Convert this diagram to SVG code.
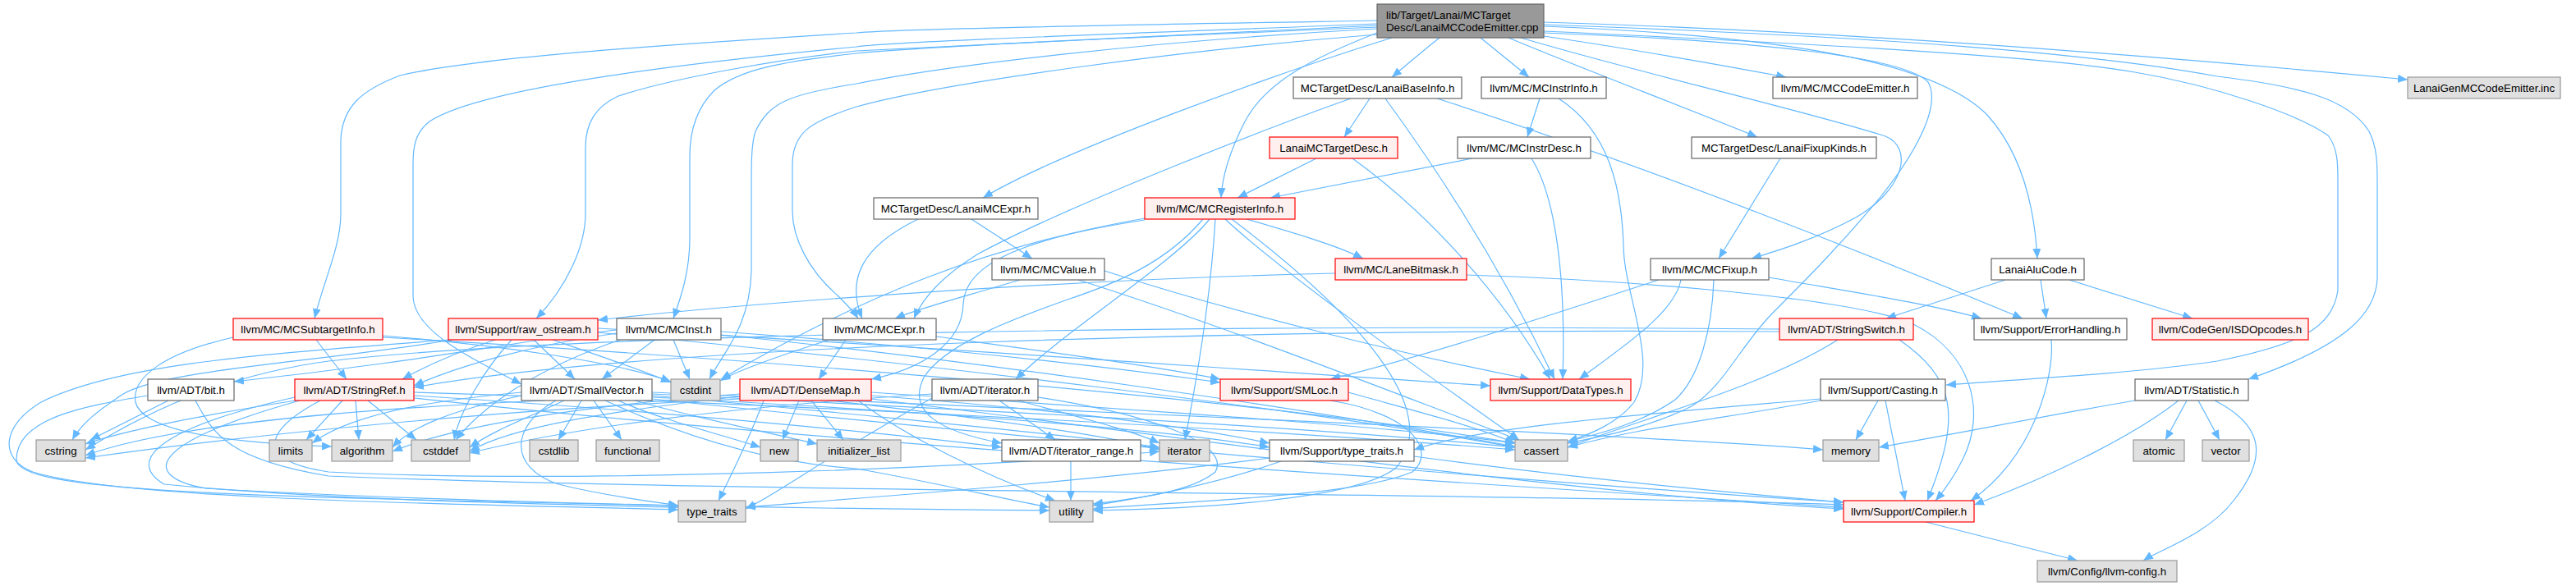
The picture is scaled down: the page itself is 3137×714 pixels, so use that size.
<svg xmlns="http://www.w3.org/2000/svg" width="3137" height="714" viewBox="0 0 3137 714">
<style>
.e{fill:none;stroke:#63b8ff;stroke-width:1.2;marker-end:url(#a)}
.n{fill:#fff;stroke:#666;stroke-width:1.2}
.r{fill:#fff0f0;stroke:#f00;stroke-width:1.2}
.g{fill:#e0e0e0;stroke:#999;stroke-width:1.2}
.rt{fill:#999;stroke:#666;stroke-width:1.2}
text{font-family:"Liberation Sans",Arial,sans-serif;font-size:13.3px;fill:#000;text-anchor:middle}
</style>
<defs>
<marker id="a" markerWidth="12" markerHeight="10" refX="12" refY="5" orient="auto" markerUnits="userSpaceOnUse"><path d="M0,0L12,5L0,10z" fill="#63b8ff"/></marker>
</defs>
<rect width="3137" height="714" fill="#fff"/>
<g id="edges">
<path class="e" d="M1753,46 C1735,60 1712,80 1695,94"/>
<path class="e" d="M1803,46 C1820,60 1845,80 1862,94"/>
<path class="e" d="M1880,44 C1990,60 2100,80 2175,94"/>
<path class="e" d="M1880,27 C2300,40 2700,75 2932,97"/>
<path class="e" d="M1837,46 C1930,85 2050,130 2140,167"/>
<path class="e" d="M1852,46 C2000,90 2200,135 2296,166 C2330,180 2320,230 2260,265 C2210,292 2160,307 2133,315"/>
<path class="e" d="M1880,32 C2200,45 2360,80 2420,140 C2465,190 2478,260 2481,315"/>
<path class="e" d="M1880,38 C2250,55 2500,70 2600,88 C2700,105 2800,140 2835,165 C2847,180 2847,200 2847,220 L2847,354 C2840,400 2800,420 2700,440 C2600,455 2450,463 2370,469"/>
<path class="e" d="M1880,30 C2300,45 2550,65 2700,93 C2800,105 2860,120 2885,160 C2895,180 2895,200 2895,220 L2895,340 C2893,380 2860,420 2738,462"/>
<path class="e" d="M1880,40 C2150,50 2320,70 2348,100 C2365,130 2330,190 2290,240 C2240,300 2200,340 2160,380 C2120,420 2100,470 2060,495 C2010,520 1960,530 1909,540"/>
<path class="e" d="M1695,46 C1560,88 1300,180 1197,241"/>
<path class="e" d="M1677,40 C1600,70 1540,100 1515,150 C1495,190 1488,220 1487,241"/>
<path class="e" d="M1677,42 C1450,60 1150,100 1043,130 C990,147 965,160 965,200 L965,257 C965,290 985,330 1020,360 C1032,372 1040,380 1045,388"/>
<path class="e" d="M1677,35 C1400,50 1150,80 1043,102 C960,115 937,125 920,160 C915,175 915,200 915,220 L915,330 C913,400 880,430 864,462"/>
<path class="e" d="M1677,33 C1400,45 1150,55 1043,65 C950,75 900,85 870,110 C845,135 840,165 840,190 L840,290 C840,330 830,360 820,388"/>
<path class="e" d="M1677,31 C1400,45 1150,55 1043,62 C950,72 820,95 753,117 C725,130 713,150 713,180 L713,260 C713,300 690,350 653,388"/>
<path class="e" d="M1677,29 C1400,40 1100,50 1043,57 C800,80 580,110 523,148 C505,162 503,180 503,200 L503,360 C503,400 560,430 635,468"/>
<path class="e" d="M1677,25 C1400,30 1100,35 1043,40 C800,55 580,70 487,92 C440,110 417,130 415,170 L415,260 C415,300 395,340 383,388"/>
<path class="e" d="M1668,120 L1637,167"/>
<path class="e" d="M1645,120 C1560,150 1300,250 1190,310 C1150,335 1125,360 1113,388"/>
<path class="e" d="M1687,120 C1760,220 1830,330 1893,462"/>
<path class="e" d="M1750,120 C2000,200 2300,320 2463,388"/>
<path class="e" d="M1603,193 L1507,241"/>
<path class="e" d="M1647,193 C1740,260 1830,360 1888,462"/>
<path class="e" d="M1875,120 L1860,167"/>
<path class="e" d="M1898,120 C1960,160 1975,230 1977,300 C1978,360 2020,440 1990,490 C1970,515 1940,528 1909,538"/>
<path class="e" d="M1793,193 L1547,241"/>
<path class="e" d="M1865,193 C1895,240 1907,340 1903,462"/>
<path class="e" d="M2168,193 L2093,315"/>
<path class="e" d="M1183,267 L1257,315"/>
<path class="e" d="M1118,267 C1050,300 1030,340 1050,388"/>
<path class="e" d="M1518,267 C1580,285 1630,300 1660,315"/>
<path class="e" d="M1394,266 C1200,300 1050,360 878,462"/>
<path class="e" d="M1394,268 C1250,290 1175,320 1173,370 C1172,420 1120,450 1061,462"/>
<path class="e" d="M1473,267 C1430,320 1300,400 1237,462"/>
<path class="e" d="M1465,267 C1420,320 1360,345 1300,365 C1230,390 1150,420 1125,460 C1105,500 1140,525 1220,540"/>
<path class="e" d="M1480,267 C1475,350 1460,450 1443,536"/>
<path class="e" d="M1492,267 C1560,330 1700,430 1850,536"/>
<path class="e" d="M1500,267 C1650,380 1760,500 1700,570 C1650,610 1450,620 1331,622"/>
<path class="e" d="M1626,333 C1300,340 900,370 728,390"/>
<path class="e" d="M1786,335 C1950,340 2250,360 2330,395 C2400,430 2420,500 2390,560 C2380,580 2370,595 2357,610"/>
<path class="e" d="M2047,341 C2040,380 1980,420 1923,462"/>
<path class="e" d="M2020,341 C1900,380 1750,430 1620,462"/>
<path class="e" d="M2154,338 C2250,355 2350,370 2413,388"/>
<path class="e" d="M2087,341 C2085,400 2070,460 2040,487 C2000,515 1950,528 1909,538"/>
<path class="e" d="M2442,341 L2297,388"/>
<path class="e" d="M2485,341 L2492,388"/>
<path class="e" d="M2520,341 L2670,388"/>
<path class="e" d="M385,414 L422,462"/>
<path class="e" d="M284,411 C200,430 160,460 165,490 C175,530 300,540 404,544"/>
<path class="e" d="M466,411 C800,430 1500,480 1845,540"/>
<path class="e" d="M466,409 C600,420 750,440 817,465"/>
<path class="e" d="M650,414 L700,462"/>
<path class="e" d="M603,414 C560,428 520,445 490,462"/>
<path class="e" d="M623,414 C590,450 560,500 553,536"/>
<path class="e" d="M673,414 C720,430 780,450 817,466"/>
<path class="e" d="M728,400 C1100,420 1500,450 1815,470"/>
<path class="e" d="M728,405 C1100,440 1600,500 1845,545"/>
<path class="e" d="M550,414 C400,440 200,450 150,480 C120,500 100,515 88,536"/>
<path class="e" d="M546,414 C350,430 150,440 50,490 C0,520 0,560 40,575 C150,610 600,615 826,621"/>
<path class="e" d="M797,414 L733,462"/>
<path class="e" d="M820,414 L840,462"/>
<path class="e" d="M751,406 C650,420 560,445 504,470"/>
<path class="e" d="M751,402 C650,412 520,440 285,465"/>
<path class="e" d="M755,414 C680,440 600,480 555,536"/>
<path class="e" d="M878,404 C1100,420 1300,440 1486,466"/>
<path class="e" d="M878,408 C1200,440 1600,500 1845,544"/>
<path class="e" d="M1030,414 L997,462"/>
<path class="e" d="M1140,410 C1250,425 1400,445 1486,462"/>
<path class="e" d="M1010,414 C960,430 900,450 877,464"/>
<path class="e" d="M2167,404 C1500,400 800,420 504,472"/>
<path class="e" d="M2167,401 C1500,395 700,405 400,440 C250,460 150,520 104,548"/>
<path class="e" d="M2238,414 C2150,470 2000,510 1909,545"/>
<path class="e" d="M2313,414 C2380,461 2390,504 2347,610"/>
<path class="e" d="M2498,414 C2502,454 2480,554 2400,610"/>
<path class="e" d="M2296,488 L2320,610"/>
<path class="e" d="M2287,488 L2260,536"/>
<path class="e" d="M2217,486 C2000,505 1800,520 1722,548"/>
<path class="e" d="M2217,488 C2100,510 2000,520 1909,545"/>
<path class="e" d="M2663,488 L2637,536"/>
<path class="e" d="M2677,488 L2703,536"/>
<path class="e" d="M2697,488 C2760,520 2760,560 2720,610 C2690,650 2630,670 2610,683"/>
<path class="e" d="M2653,488 C2600,530 2500,580 2404,615"/>
<path class="e" d="M2600,488 C2500,505 2400,525 2288,545"/>
<path class="e" d="M205,488 L110,536"/>
<path class="e" d="M180,482 C100,495 20,510 20,560 C20,600 300,605 826,616"/>
<path class="e" d="M238,488 C260,530 280,560 400,580 C900,600 1800,600 2245,615"/>
<path class="e" d="M360,488 C250,505 150,525 104,541"/>
<path class="e" d="M417,488 L373,536"/>
<path class="e" d="M433,488 L437,536"/>
<path class="e" d="M448,488 L507,536"/>
<path class="e" d="M390,488 C330,520 300,560 400,575 C700,590 1200,570 1412,550"/>
<path class="e" d="M504,478 C900,490 1500,520 1845,548"/>
<path class="e" d="M359,484 C200,520 150,560 200,590 C400,610 700,615 826,618"/>
<path class="e" d="M365,488 C180,540 170,580 250,595 C600,615 1000,620 1278,622"/>
<path class="e" d="M504,485 C1000,540 1800,590 2245,618"/>
<path class="e" d="M504,482 C800,500 1100,530 1220,545"/>
<path class="e" d="M708,488 L680,536"/>
<path class="e" d="M723,488 L757,536"/>
<path class="e" d="M753,488 C800,510 880,530 926,545"/>
<path class="e" d="M773,488 C850,510 950,530 995,541"/>
<path class="e" d="M687,488 C640,510 600,525 572,545"/>
<path class="e" d="M663,488 C400,500 200,520 104,555"/>
<path class="e" d="M635,482 C550,500 500,520 478,545"/>
<path class="e" d="M635,478 C500,490 420,510 380,540"/>
<path class="e" d="M677,488 C620,520 620,570 680,590 C740,605 800,612 826,616"/>
<path class="e" d="M794,482 C1000,500 1300,530 1412,545"/>
<path class="e" d="M794,478 C1300,500 2000,530 2220,548"/>
<path class="e" d="M794,480 C1200,500 1600,520 1845,545"/>
<path class="e" d="M794,484 C1100,500 1400,520 1546,545"/>
<path class="e" d="M737,488 C850,540 950,565 1043,571 C1150,590 1230,610 1278,618"/>
<path class="e" d="M794,486 C1300,540 1900,590 2245,612"/>
<path class="e" d="M973,488 L953,536"/>
<path class="e" d="M988,488 L1027,536"/>
<path class="e" d="M901,483 C750,500 620,520 572,550"/>
<path class="e" d="M901,486 C600,500 300,530 104,558"/>
<path class="e" d="M901,480 C700,495 550,520 478,550"/>
<path class="e" d="M1010,488 C1200,510 1350,530 1412,548"/>
<path class="e" d="M1061,478 C1400,500 1700,520 1845,540"/>
<path class="e" d="M930,488 C910,540 890,580 875,610"/>
<path class="e" d="M1045,488 C1100,530 1200,580 1285,610"/>
<path class="e" d="M1061,486 C1500,540 1900,600 2245,620"/>
<path class="e" d="M1061,482 C1300,500 1450,520 1546,540"/>
<path class="e" d="M1217,488 L1285,536"/>
<path class="e" d="M1240,488 C1320,510 1380,525 1412,540"/>
<path class="e" d="M1135,480 C900,495 700,520 572,552"/>
<path class="e" d="M1135,485 C1000,560 950,600 908,620"/>
<path class="e" d="M1264,484 C1400,505 1500,540 1480,575 C1450,600 1380,608 1331,614"/>
<path class="e" d="M1642,478 C1720,500 1800,520 1845,540"/>
<path class="e" d="M1620,488 C1720,504 1750,550 1720,575 C1650,605 1450,610 1331,620"/>
<path class="e" d="M1304,562 L1304,610"/>
<path class="e" d="M1546,558 C1300,590 1000,610 908,618"/>
<path class="e" d="M1560,562 C1480,590 1400,605 1331,616"/>
<path class="e" d="M1722,556 C1900,580 2100,600 2245,612"/>
<path class="e" d="M2345,636 L2530,683"/>
<path class="e" d="M1242,341 C1180,360 1120,375 1090,388"/>
<path class="e" d="M1345,330 C1500,380 1700,430 1863,462"/>
<path class="e" d="M1313,341 C1500,400 1700,480 1850,536"/>
</g>
<g id="n_root"><rect class="rt" x="1677" y="5" width="203" height="41"/><text x="1688" y="23" style="text-anchor:start">lib/Target/Lanai/MCTarget</text><text x="1688" y="38" style="text-anchor:start">Desc/LanaiMCCodeEmitter.cpp</text></g>
<g id="n_LanaiBaseInfo"><rect class="n" x="1575" y="94" width="205" height="26"/><text x="1677.5" y="111.5">MCTargetDesc/LanaiBaseInfo.h</text></g>
<g id="n_MCInstrInfo"><rect class="n" x="1804" y="94" width="152" height="26"/><text x="1880" y="111.5">llvm/MC/MCInstrInfo.h</text></g>
<g id="n_MCCodeEmitter"><rect class="n" x="2159" y="94" width="176" height="26"/><text x="2247" y="111.5">llvm/MC/MCCodeEmitter.h</text></g>
<g id="n_LanaiGenInc"><rect class="g" x="2932" y="94" width="186" height="26"/><text x="3025" y="111.5">LanaiGenMCCodeEmitter.inc</text></g>
<g id="n_LanaiMCTargetDesc"><rect class="r" x="1546" y="167" width="156" height="26"/><text x="1624" y="184.5">LanaiMCTargetDesc.h</text></g>
<g id="n_MCInstrDesc"><rect class="n" x="1775" y="167" width="162" height="26"/><text x="1856" y="184.5">llvm/MC/MCInstrDesc.h</text></g>
<g id="n_LanaiFixupKinds"><rect class="n" x="2060" y="167" width="225" height="26"/><text x="2172.5" y="184.5">MCTargetDesc/LanaiFixupKinds.h</text></g>
<g id="n_LanaiMCExpr"><rect class="n" x="1064" y="241" width="200" height="26"/><text x="1164" y="258.5">MCTargetDesc/LanaiMCExpr.h</text></g>
<g id="n_MCRegisterInfo"><rect class="r" x="1394" y="241" width="183" height="26"/><text x="1485.5" y="258.5">llvm/MC/MCRegisterInfo.h</text></g>
<g id="n_MCValue"><rect class="n" x="1208" y="315" width="137" height="26"/><text x="1276.5" y="332.5">llvm/MC/MCValue.h</text></g>
<g id="n_LaneBitmask"><rect class="r" x="1626" y="315" width="160" height="26"/><text x="1706" y="332.5">llvm/MC/LaneBitmask.h</text></g>
<g id="n_MCFixup"><rect class="n" x="2010" y="315" width="144" height="26"/><text x="2082" y="332.5">llvm/MC/MCFixup.h</text></g>
<g id="n_LanaiAluCode"><rect class="n" x="2425" y="315" width="113" height="26"/><text x="2481.5" y="332.5">LanaiAluCode.h</text></g>
<g id="n_MCSubtargetInfo"><rect class="r" x="284" y="388" width="182" height="26"/><text x="375" y="405.5">llvm/MC/MCSubtargetInfo.h</text></g>
<g id="n_raw_ostream"><rect class="r" x="546" y="388" width="182" height="26"/><text x="637" y="405.5">llvm/Support/raw_ostream.h</text></g>
<g id="n_MCInst"><rect class="n" x="751" y="388" width="127" height="26"/><text x="814.5" y="405.5">llvm/MC/MCInst.h</text></g>
<g id="n_MCExpr"><rect class="n" x="1002" y="388" width="138" height="26"/><text x="1071" y="405.5">llvm/MC/MCExpr.h</text></g>
<g id="n_StringSwitch"><rect class="r" x="2167" y="388" width="163" height="26"/><text x="2248.5" y="405.5">llvm/ADT/StringSwitch.h</text></g>
<g id="n_ErrorHandling"><rect class="n" x="2404" y="388" width="186" height="26"/><text x="2497" y="405.5">llvm/Support/ErrorHandling.h</text></g>
<g id="n_ISDOpcodes"><rect class="r" x="2621" y="388" width="190" height="26"/><text x="2716" y="405.5">llvm/CodeGen/ISDOpcodes.h</text></g>
<g id="n_bit"><rect class="n" x="180" y="462" width="105" height="26"/><text x="232.5" y="479.5">llvm/ADT/bit.h</text></g>
<g id="n_StringRef"><rect class="r" x="359" y="462" width="145" height="26"/><text x="431.5" y="479.5">llvm/ADT/StringRef.h</text></g>
<g id="n_SmallVector"><rect class="n" x="635" y="462" width="159" height="26"/><text x="714.5" y="479.5">llvm/ADT/SmallVector.h</text></g>
<g id="n_cstdint"><rect class="g" x="817" y="462" width="60" height="26"/><text x="847" y="479.5">cstdint</text></g>
<g id="n_DenseMap"><rect class="r" x="901" y="462" width="160" height="26"/><text x="981" y="479.5">llvm/ADT/DenseMap.h</text></g>
<g id="n_iterator_h"><rect class="n" x="1135" y="462" width="129" height="26"/><text x="1199.5" y="479.5">llvm/ADT/iterator.h</text></g>
<g id="n_SMLoc"><rect class="r" x="1486" y="462" width="156" height="26"/><text x="1564" y="479.5">llvm/Support/SMLoc.h</text></g>
<g id="n_DataTypes"><rect class="r" x="1815" y="462" width="171" height="26"/><text x="1900.5" y="479.5">llvm/Support/DataTypes.h</text></g>
<g id="n_Casting"><rect class="n" x="2217" y="462" width="152" height="26"/><text x="2293" y="479.5">llvm/Support/Casting.h</text></g>
<g id="n_Statistic"><rect class="n" x="2600" y="462" width="138" height="26"/><text x="2669" y="479.5">llvm/ADT/Statistic.h</text></g>
<g id="n_cstring"><rect class="g" x="44" y="536" width="60" height="26"/><text x="74" y="553.5">cstring</text></g>
<g id="n_limits"><rect class="g" x="328" y="536" width="52" height="26"/><text x="354" y="553.5">limits</text></g>
<g id="n_algorithm"><rect class="g" x="404" y="536" width="74" height="26"/><text x="441" y="553.5">algorithm</text></g>
<g id="n_cstddef"><rect class="g" x="501" y="536" width="71" height="26"/><text x="536.5" y="553.5">cstddef</text></g>
<g id="n_cstdlib"><rect class="g" x="645" y="536" width="59" height="26"/><text x="674.5" y="553.5">cstdlib</text></g>
<g id="n_functional"><rect class="g" x="726" y="536" width="77" height="26"/><text x="764.5" y="553.5">functional</text></g>
<g id="n_new"><rect class="g" x="926" y="536" width="46" height="26"/><text x="949" y="553.5">new</text></g>
<g id="n_initializer_list"><rect class="g" x="995" y="536" width="102" height="26"/><text x="1046" y="553.5">initializer_list</text></g>
<g id="n_iterator_range"><rect class="n" x="1220" y="536" width="169" height="26"/><text x="1304.5" y="553.5">llvm/ADT/iterator_range.h</text></g>
<g id="n_iterator"><rect class="g" x="1412" y="536" width="61" height="26"/><text x="1442.5" y="553.5">iterator</text></g>
<g id="n_type_traits_h"><rect class="n" x="1546" y="536" width="176" height="26"/><text x="1634" y="553.5">llvm/Support/type_traits.h</text></g>
<g id="n_cassert"><rect class="g" x="1845" y="536" width="64" height="26"/><text x="1877" y="553.5">cassert</text></g>
<g id="n_memory"><rect class="g" x="2220" y="536" width="68" height="26"/><text x="2254" y="553.5">memory</text></g>
<g id="n_atomic"><rect class="g" x="2598" y="536" width="62" height="26"/><text x="2629" y="553.5">atomic</text></g>
<g id="n_vector"><rect class="g" x="2682" y="536" width="57" height="26"/><text x="2710.5" y="553.5">vector</text></g>
<g id="n_type_traits"><rect class="g" x="826" y="610" width="82" height="26"/><text x="867" y="627.5">type_traits</text></g>
<g id="n_utility"><rect class="g" x="1278" y="610" width="53" height="26"/><text x="1304.5" y="627.5">utility</text></g>
<g id="n_Compiler"><rect class="r" x="2245" y="610" width="159" height="26"/><text x="2324.5" y="627.5">llvm/Support/Compiler.h</text></g>
<g id="n_llvm_config"><rect class="g" x="2481" y="683" width="170" height="26"/><text x="2566" y="700.5">llvm/Config/llvm-config.h</text></g>
</svg>
